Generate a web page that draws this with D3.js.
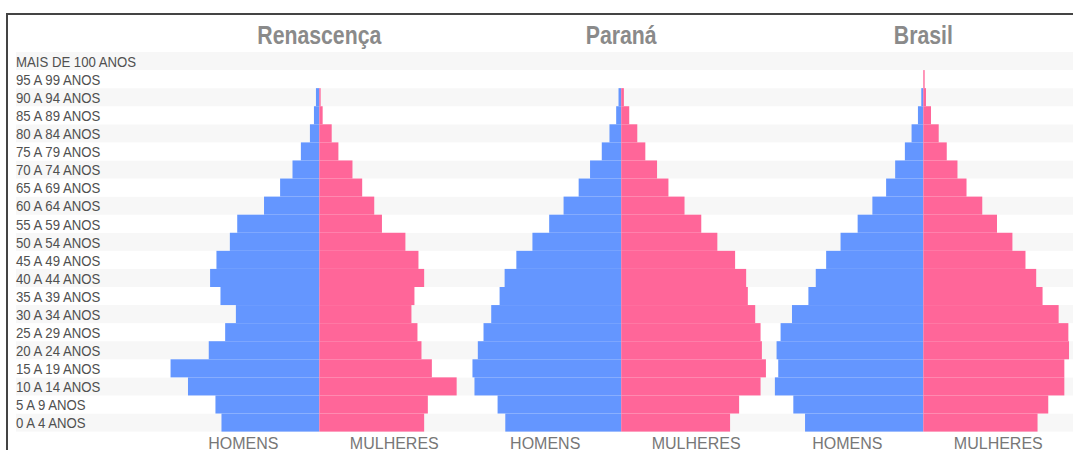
<!DOCTYPE html>
<html>
<head>
<meta charset="utf-8">
<script src="https://cdn.jsdelivr.net/npm/d3@7"></script>
<style>
  html, body { margin: 0; padding: 0; background: #fff; }
  svg { display: block; }
  text { font-family: "Liberation Sans", Arial, sans-serif; }
</style>
</head>
<body>
<svg id="chart" width="1073" height="450"></svg>
<script>
// Age groups, bottom to top
const ageGroups = ["0 A 4 ANOS","5 A 9 ANOS","10 A 14 ANOS","15 A 19 ANOS","20 A 24 ANOS","25 A 29 ANOS",
  "30 A 34 ANOS","35 A 39 ANOS","40 A 44 ANOS","45 A 49 ANOS","50 A 54 ANOS","55 A 59 ANOS",
  "60 A 64 ANOS","65 A 69 ANOS","70 A 74 ANOS","75 A 79 ANOS","80 A 84 ANOS","85 A 89 ANOS",
  "90 A 94 ANOS","95 A 99 ANOS","MAIS DE 100 ANOS"];

const panelTitles = ["Renascença", "Paraná", "Brasil"];
const sexLabels = ["HOMENS", "MULHERES"];

// Population share (%) per age group, bottom to top
const renascencaMen   = [2.92,3.10,3.92,4.44,3.30,2.81,2.49,2.95,3.26,3.07,2.67,2.45,1.65,1.17,0.80,0.55,0.28,0.16,0.10,0,0];
const renascencaWomen = [3.13,3.24,4.10,3.36,3.05,2.93,2.75,2.84,3.13,2.96,2.57,1.87,1.64,1.28,0.99,0.57,0.37,0.10,0.04,0,0];
const paranaMen       = [3.46,3.69,4.38,4.44,4.28,4.11,3.88,3.63,3.48,3.13,2.65,2.15,1.72,1.27,0.93,0.58,0.35,0.15,0.08,0,0];
const paranaWomen     = [3.25,3.52,4.16,4.32,4.20,4.16,4.00,3.78,3.73,3.40,2.87,2.39,1.89,1.41,1.07,0.72,0.48,0.24,0.08,0,0];
const brasilMen       = [3.53,3.88,4.43,4.33,4.38,4.26,3.92,3.43,3.21,2.90,2.47,1.96,1.52,1.11,0.84,0.55,0.35,0.16,0.06,0,0];
const brasilWomen     = [3.41,3.73,4.21,4.21,4.35,4.33,4.04,3.56,3.37,3.05,2.66,2.20,1.76,1.29,1.02,0.70,0.46,0.23,0.08,0.04,0];

const panels = [
  { title: panelTitles[0], men: renascencaMen, women: renascencaWomen },
  { title: panelTitles[1], men: paranaMen, women: paranaWomen },
  { title: panelTitles[2], men: brasilMen, women: brasilWomen }
];

const W = 1073, H = 450;
const svg = d3.select("#chart");
const SQ = 0.85; // horizontal text compression seen in the reference

const y = d3.scaleBand()
  .domain(ageGroups.slice().reverse())
  .range([52, 431.6])
  .padding(0);

const centers = d3.scaleOrdinal().domain(panelTitles).range([319.3, 621.2, 923.3]);
const x = d3.scaleLinear().domain([0, 4.5]).range([0, 150.75]);

// alternating background bands
svg.append("g").selectAll("rect")
  .data(ageGroups)
  .join("rect")
  .attr("x", 16)
  .attr("y", d => y(d))
  .attr("width", W - 16)
  .attr("height", y.bandwidth())
  .attr("fill", (d, i) => i % 2 === 0 ? "#f7f7f7" : "#ffffff");

// frame
svg.append("path")
  .attr("d", `M7,${H} V14 H${W}`)
  .attr("fill", "none")
  .attr("stroke", "#444")
  .attr("stroke-width", 2);

// row labels
svg.append("g").selectAll("g")
  .data(ageGroups)
  .join("g")
  .attr("transform", d => `translate(16,${y(d) + y.bandwidth() - 3.2}) scale(0.88,1)`)
  .append("text")
  .attr("font-size", 15)
  .attr("fill", "#505050")
  .text(d => d);

// panels
panels.forEach(p => {
  const c = centers(p.title);
  const g = svg.append("g");

  g.append("g").selectAll("rect")
    .data(ageGroups.map((a, i) => ({ a, v: p.men[i] })))
    .join("rect")
    .attr("x", d => c - x(d.v))
    .attr("y", d => y(d.a))
    .attr("width", d => x(d.v))
    .attr("height", y.bandwidth())
    .attr("fill", "#6496ff");

  g.append("g").selectAll("rect")
    .data(ageGroups.map((a, i) => ({ a, v: p.women[i] })))
    .join("rect")
    .attr("x", c)
    .attr("y", d => y(d.a))
    .attr("width", d => x(d.v))
    .attr("height", y.bandwidth())
    .attr("fill", "#ff6699");

  g.append("g")
    .attr("transform", `translate(${c},44) scale(${SQ},1)`)
    .append("text")
    .attr("text-anchor", "middle")
    .attr("font-size", 25)
    .attr("font-weight", "bold")
    .attr("fill", "#8a8a8a")
    .text(p.title);

  g.selectAll("text.sex")
    .data(sexLabels)
    .join("text")
    .attr("class", "sex")
    .attr("x", (d, i) => c + (i === 0 ? -76 : 75))
    .attr("y", 448.5)
    .attr("text-anchor", "middle")
    .attr("font-size", 16)
    .attr("fill", "#777")
    .text(d => d);
});
</script>
</body>
</html>
